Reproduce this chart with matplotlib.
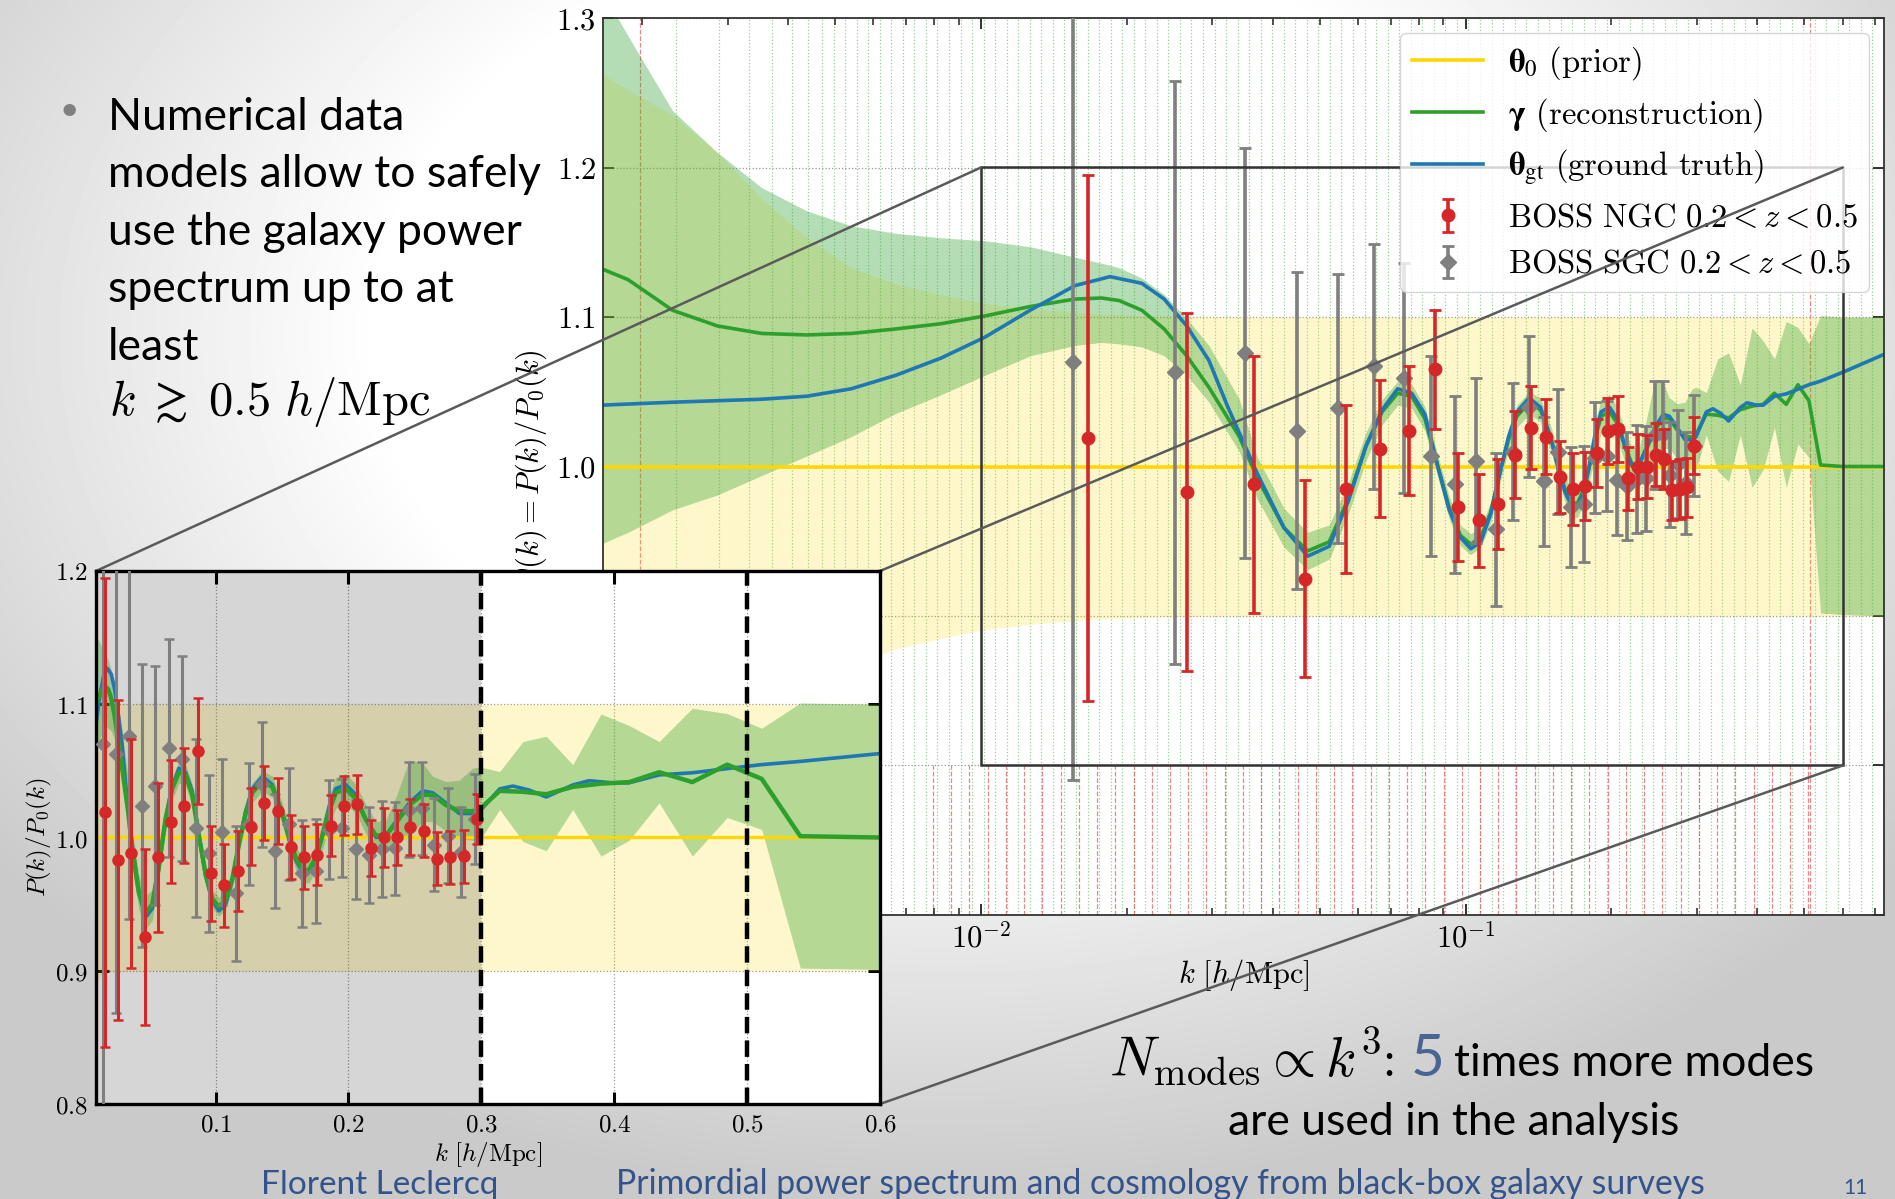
import numpy as np
import matplotlib
matplotlib.use("Agg")
import matplotlib.pyplot as plt
from matplotlib.patches import Rectangle, ConnectionPatch
from matplotlib.ticker import FuncFormatter, FixedLocator, LogLocator, NullFormatter

plt.rcParams['mathtext.fontset'] = 'cm'
plt.rcParams['font.family'] = ['DejaVu Sans']

# ---------------- data ----------------
# prior band: theta_0 = 1 with k-dependent half width
prior_k = [0.00164, 0.00187, 0.00231, 0.00286, 0.00353, 0.00437, 0.0054, 0.00667,
           0.00827, 0.0102, 0.0132, 0.0175, 0.024, 0.035, 0.73]
prior_hw = [0.263, 0.252, 0.235, 0.210, 0.179, 0.153, 0.133, 0.122,
            0.115, 0.109, 0.105, 0.102, 0.1005, 0.1, 0.1]

# reconstruction gamma and its credible band
recon_k = [0.00164, 0.00187, 0.00231, 0.00286, 0.00353, 0.00437, 0.0054, 0.00667, 0.00827, 0.01019,
           0.01263, 0.01563, 0.01775, 0.01928, 0.02148, 0.02388, 0.02658, 0.02953, 0.03412,
           0.0372, 0.0422, 0.0472, 0.0523, 0.0573, 0.0623, 0.0673, 0.0724, 0.0774, 0.0824,
           0.0874, 0.0925, 0.0975, 0.1025, 0.1075, 0.1126, 0.1176, 0.1226, 0.1276, 0.1352,
           0.1427, 0.1502, 0.1553, 0.1603, 0.1653, 0.1703, 0.1754, 0.1804, 0.1854, 0.1904,
           0.198, 0.2055, 0.213, 0.2206, 0.2281, 0.2356, 0.2457, 0.2557, 0.2633, 0.2733,
           0.2834, 0.2934,
           0.2988, 0.3138, 0.3313, 0.3488, 0.3688, 0.39, 0.4113, 0.4338, 0.4588, 0.485,
           0.511, 0.54, 0.6, 0.73]
recon_y = [1.1326, 1.125, 1.1045, 1.094, 1.089, 1.088, 1.089, 1.092, 1.0955, 1.1007,
           1.107, 1.112, 1.1127, 1.111, 1.1045, 1.092, 1.074, 1.053, 1.020,
           0.992, 0.959, 0.9435, 0.9496, 0.9786, 1.0137, 1.0366, 1.049, 1.047, 1.032,
           1.0015, 0.9725, 0.954, 0.948, 0.9527, 0.969, 0.9954, 1.018, 1.0336, 1.0427,
           1.038, 1.018, 1.0, 0.985, 0.9756, 0.9756, 0.985, 1.0015, 1.0198, 1.0336,
           1.0366, 1.029, 1.0137, 1.0015, 1.0015, 1.0107, 1.0244, 1.032, 1.032, 1.0244,
           1.0198, 1.0198,
           1.0213, 1.035, 1.0343, 1.0325, 1.038, 1.0404, 1.0416, 1.049, 1.0416, 1.0547,
           1.044, 1.001, 1.0, 1.0]
recon_lo = [0.948, 0.956, 0.971, 0.981, 0.994, 1.007, 1.020, 1.0355, 1.048, 1.061,
            1.074, 1.081, 1.083, 1.082, 1.080, 1.074, 1.061, 1.043, 1.010,
            0.978, 0.946, 0.931, 0.938, 0.968, 1.004, 1.028, 1.041, 1.039, 1.024,
            0.994, 0.965, 0.947, 0.941, 0.946, 0.962, 0.988, 1.011, 1.026, 1.035,
            1.030, 1.010, 0.991, 0.976, 0.966, 0.966, 0.975, 0.991, 1.009, 1.022,
            1.025, 1.018, 1.003, 0.991, 0.991, 0.997, 1.000, 1.012, 1.012, 1.005,
            0.999, 0.998,
            0.998, 1.021, 0.997, 0.990, 1.021, 0.986, 0.998, 1.026, 0.986, 1.015,
            1.006, 0.902, 0.901, 0.900]
recon_hi = [1.32, 1.288, 1.238, 1.21, 1.1865, 1.171, 1.161, 1.156, 1.153, 1.151,
            1.147, 1.140, 1.136, 1.133, 1.126, 1.115, 1.099, 1.081, 1.045,
            1.006, 0.972, 0.956, 0.961, 0.989, 1.023, 1.045, 1.057, 1.055, 1.040,
            1.009, 0.980, 0.961, 0.955, 0.960, 0.976, 1.003, 1.025, 1.041, 1.050,
            1.046, 1.026, 1.009, 0.994, 0.985, 0.985, 0.995, 1.012, 1.031, 1.045,
            1.048, 1.040, 1.025, 1.012, 1.013, 1.030, 1.058, 1.056, 1.046, 1.042,
            1.043, 1.052,
            1.053, 1.0495, 1.072, 1.076, 1.0547, 1.0927, 1.084, 1.072, 1.097, 1.093,
            1.082, 1.101, 1.100, 1.100]

# ground truth theta_gt
truth_k = [0.00164, 0.00231, 0.00353, 0.00437, 0.0054, 0.00667, 0.00827, 0.01019, 0.01263, 0.01563,
           0.01847, 0.02148, 0.02388, 0.02658, 0.02953, 0.0322, 0.0372, 0.0422, 0.0472, 0.0523,
           0.0573, 0.0623, 0.0673, 0.0724, 0.0774, 0.0824, 0.0874, 0.0925, 0.0975, 0.1025,
           0.1075, 0.1126, 0.1176, 0.1226, 0.1276, 0.1352, 0.1427, 0.1502, 0.1553, 0.1603,
           0.1653, 0.1703, 0.1754, 0.1804, 0.1854, 0.1904, 0.198, 0.2055, 0.213, 0.2206,
           0.2281, 0.2356, 0.2457, 0.2557, 0.2633, 0.2733, 0.2834, 0.2934, 0.2988, 0.3138,
           0.3238, 0.336, 0.3488, 0.369, 0.381, 0.399, 0.411, 0.434, 0.459, 0.485,
           0.511, 0.54, 0.6, 0.73]
truth_y = [1.041, 1.043, 1.045, 1.047, 1.052, 1.061, 1.0725, 1.0865, 1.1045, 1.121,
           1.127, 1.1225, 1.112, 1.094, 1.071, 1.041, 0.995, 0.959, 0.940, 0.9466,
           0.977, 1.0137, 1.038, 1.052, 1.049, 1.035, 1.0015, 0.971, 0.9527, 0.945,
           0.9496, 0.968, 0.9954, 1.0198, 1.0366, 1.0458, 1.0397, 1.018, 0.9985, 0.983,
           0.974, 0.974, 0.983, 1.0015, 1.023, 1.0366, 1.0397, 1.032, 1.0137, 1.0,
           1.0015, 1.012, 1.026, 1.035, 1.0336, 1.026, 1.018, 1.018, 1.0198, 1.0365,
           1.0386, 1.0356, 1.0304, 1.0395, 1.0426, 1.041, 1.041, 1.047, 1.0486, 1.0517,
           1.0547, 1.0571, 1.063, 1.075]

# BOSS measurements, P(k)/P_0(k)
ngc_k = [0.0166, 0.0266, 0.0366, 0.0466, 0.0566, 0.0666, 0.0766, 0.0866, 0.0966, 0.1066,
         0.1166, 0.1266, 0.1366, 0.1466, 0.1566, 0.1666, 0.1766, 0.1866, 0.1966, 0.2066,
         0.2166, 0.2266, 0.2366, 0.2466, 0.2566, 0.2666, 0.2766, 0.2866, 0.2966]
ngc_y = [1.019, 0.983, 0.988, 0.925, 0.985, 1.012, 1.024, 1.065, 0.973, 0.964,
         0.975, 1.008, 1.026, 1.020, 0.993, 0.985, 0.987, 1.009, 1.024, 1.025,
         0.992, 1.000, 1.000, 1.008, 1.005, 0.984, 0.985, 0.986, 1.014]
ngc_err = [0.176, 0.120, 0.086, 0.066, 0.056, 0.046, 0.043, 0.040, 0.036, 0.031,
           0.030, 0.029, 0.028, 0.025, 0.024, 0.024, 0.023, 0.023, 0.022, 0.022,
           0.021, 0.022, 0.021, 0.021, 0.020, 0.020, 0.020, 0.020, 0.019]

sgc_k = [0.0155, 0.0252, 0.0350, 0.0448, 0.0546, 0.0646, 0.0745, 0.0850, 0.0950, 0.1050,
         0.1153, 0.1251, 0.1352, 0.1449, 0.1551, 0.1649, 0.1752, 0.1853, 0.1954, 0.2055,
         0.2151, 0.2254, 0.2351, 0.2456, 0.2553, 0.2647, 0.2747, 0.2847, 0.2955]
sgc_y = [1.070, 1.063, 1.076, 1.024, 1.039, 1.067, 1.059, 1.007, 0.988, 1.004,
         0.958, 1.010, 1.040, 0.990, 1.010, 0.973, 0.975, 1.006, 1.007, 0.991,
         0.987, 0.9915, 0.992, 1.021, 1.022, 0.9945, 1.0015, 0.989, 1.014]
sgc_err = [0.280, 0.195, 0.137, 0.106, 0.090, 0.082, 0.077, 0.067, 0.059, 0.055,
           0.051, 0.046, 0.047, 0.043, 0.042, 0.040, 0.039, 0.037, 0.037, 0.037,
           0.036, 0.036, 0.035, 0.036, 0.035, 0.035, 0.036, 0.034, 0.034]

# wavenumber grid of the simulation box and of the support points
k_fund = 0.00166
k_min_support, k_max_support = 0.00198, 0.5145
support_first, support_ratio, n_support = 0.00796, 1.0905, 49

x_ticks_inset = [0.1, 0.2, 0.3, 0.4, 0.5, 0.6]
y_ticks_inset = [0.8, 0.9, 1.0, 1.1, 1.2]
y_ticks_main = [0.7, 0.8, 0.9, 1.0, 1.1, 1.2, 1.3]

bullet_lines = ["Numerical data", "models allow to safely", "use the galaxy power",
                "spectrum up to at", "least"]

# ---------------- colours ----------------
C_PRIOR = '#FFD700'
C_RECON = '#2ca02c'
C_TRUTH = '#1f77b4'
C_NGC = '#d62728'
C_SGC = '#7f7f7f'
C_FOOT = '#33538A'

W, H = 1895, 1199
fig = plt.figure(figsize=(W / 100, H / 100), dpi=100)


def fx(px):
    return px / W


def fy(py):
    return 1 - py / H


# slide background: soft grey vignette
bg = fig.add_axes([0, 0, 1, 1], zorder=-10)
yy, xx = np.mgrid[0:1:300j, 0:1:480j]
r = np.hypot((xx - 0.50) / 0.75, (yy - 0.28) / 0.85)
shade = 1 - 0.21 * np.clip((r - 0.40) / 0.45, 0, 1)
bg.imshow(shade, cmap='gray', vmin=0, vmax=1, extent=[0, 1, 0, 1], origin='upper',
          aspect='auto', interpolation='bilinear')
bg.set_xlim(0, 1)
bg.set_ylim(0, 1)
bg.set_axis_off()

prior_k_a = np.array(prior_k)
prior_hw_a = np.array(prior_hw)

# ---------------- main axes (log k) ----------------
ax = fig.add_axes([fx(603), fy(915), (1884 - 603) / W, (915 - 18) / H], zorder=0)
ax.set_facecolor('white')
ax.set_xscale('log')
ax.set_xlim(0.00166, 0.73)
ax.set_ylim(0.7, 1.3)

# mode grid (green dotted) and support wavenumbers (red dashed)
low_modes = [k_fund * np.sqrt(n) for n in range(2, 8)]
log_modes = list(np.geomspace(0.0047, 0.73, int(np.log10(0.73 / 0.0047) / 0.02376) + 1))
for k in low_modes + log_modes:
    ax.axvline(k, color=C_RECON, ls=':', lw=0.9, alpha=0.5, zorder=0.3)
support = [support_first * support_ratio ** i for i in range(n_support)]
for k in support:
    ax.plot([k, k], [0.7, 0.8], color=C_NGC, ls='--', lw=0.9, alpha=0.55, zorder=0.3)
for k in (k_min_support, k_max_support):
    ax.axvline(k, color=C_NGC, ls='--', lw=0.9, alpha=0.55, zorder=0.3)

ax.yaxis.grid(True, ls=':', color='#999999', lw=0.9, zorder=0.2)
ax.set_axisbelow(True)

ax.fill_between(prior_k_a, 1 - prior_hw_a, 1 + prior_hw_a, color=C_PRIOR, alpha=0.2, lw=0, zorder=1)
ax.fill_between(recon_k, recon_lo, recon_hi, color=C_RECON, alpha=0.35, lw=0, zorder=1.5)
l_prior = ax.axhline(1.0, color=C_PRIOR, lw=2.6, zorder=2)
l_truth, = ax.plot(truth_k, truth_y, color=C_TRUTH, lw=2.6, zorder=2.2)
l_recon, = ax.plot(recon_k, recon_y, color=C_RECON, lw=2.6, zorder=2.1)
e_sgc = ax.errorbar(sgc_k, sgc_y, yerr=sgc_err, fmt='D', color=C_SGC, ms=8, elinewidth=2.6,
                    capsize=4.5, capthick=2, zorder=3)
e_ngc = ax.errorbar(ngc_k, ngc_y, yerr=ngc_err, fmt='o', color=C_NGC, ms=9, elinewidth=2.6,
                    capsize=4.5, capthick=2, zorder=3.2)

ax.add_patch(Rectangle((0.01, 0.8), 0.59, 0.4, fill=False, ec='#333333', lw=1.8, zorder=4))

ax.yaxis.set_major_locator(FixedLocator(y_ticks_main))
ax.yaxis.set_major_formatter(FuncFormatter(lambda v, p: rf'${v:.1f}$'))
ax.xaxis.set_major_locator(LogLocator(base=10, numticks=10))
ax.xaxis.set_minor_locator(LogLocator(base=10, subs=np.arange(2, 10), numticks=20))
ax.xaxis.set_major_formatter(FuncFormatter(lambda v, p: rf'$10^{{{int(round(np.log10(v)))}}}$'))
ax.xaxis.set_minor_formatter(NullFormatter())
ax.tick_params(which='both', direction='in', top=True, right=True, labelsize=22, color='#222222')
ax.tick_params(which='major', length=8, width=1.3, pad=5)
ax.tick_params(which='minor', length=5, width=1.1)
for s in ax.spines.values():
    s.set_linewidth(1.3)
    s.set_color('#333333')

ax.set_xlabel(r'$k\ [h/\mathrm{Mpc}]$', fontsize=22)
ax.xaxis.set_label_coords(0.5, -0.047)
ax.set_ylabel(r'$\theta(k) = P(k)/P_0(k)$', fontsize=22)
ax.yaxis.set_label_coords(-0.042, 0.5)

leg = ax.legend([l_prior, l_recon, l_truth, e_ngc, e_sgc],
                [r'$\mathbf{\theta}_0$ (prior)',
                 r'$\mathbf{\gamma}$ (reconstruction)',
                 r'$\mathbf{\theta}_\mathrm{gt}$ (ground truth)',
                 r'$\mathrm{BOSS\ NGC}\ 0.2 < z < 0.5$',
                 r'$\mathrm{BOSS\ SGC}\ 0.2 < z < 0.5$'],
                loc='upper right', fontsize=23.5, frameon=True, fancybox=True,
                framealpha=0.8, edgecolor='#cccccc', handlelength=2.2,
                handletextpad=0.75, labelspacing=0.42, borderpad=0.35,
                borderaxespad=0.45)
leg.set_zorder(5)
for t in leg.get_texts()[:3]:
    t.set_family('cmr10')
    t.set_math_fontfamily('stix')

# ---------------- inset (linear k) ----------------
axi = fig.add_axes([fx(96), fy(1104), (880 - 96) / W, (1104 - 571) / H], zorder=3)
axi.set_facecolor('white')
axi.set_xlim(0.01, 0.6)
axi.set_ylim(0.8, 1.2)
axi.grid(True, ls=':', color='#999999', lw=0.9)
axi.set_axisbelow(True)
axi.fill_between(prior_k_a, 1 - prior_hw_a, 1 + prior_hw_a, color=C_PRIOR, alpha=0.2, lw=0, zorder=1)
axi.axvspan(0.01, 0.3, color='black', alpha=0.16, lw=0, zorder=1.2)
axi.fill_between(recon_k, recon_lo, recon_hi, color=C_RECON, alpha=0.35, lw=0, zorder=1.5)
axi.axhline(1.0, color=C_PRIOR, lw=2.4, zorder=2)
axi.plot(truth_k, truth_y, color=C_TRUTH, lw=2.6, zorder=2.1)
axi.plot(recon_k, recon_y, color=C_RECON, lw=3.2, zorder=2.2)
axi.errorbar(sgc_k, sgc_y, yerr=sgc_err, fmt='D', color=C_SGC, ms=7, elinewidth=2.2,
             capsize=3.5, capthick=1.8, zorder=3)
axi.errorbar(ngc_k, ngc_y, yerr=ngc_err, fmt='o', color=C_NGC, ms=8, elinewidth=2.2,
             capsize=3.5, capthick=1.8, zorder=3.2)
for kc in (0.3, 0.5):
    axi.axvline(kc, color='black', ls='--', lw=3.2, zorder=4)

axi.xaxis.set_major_locator(FixedLocator(x_ticks_inset))
axi.yaxis.set_major_locator(FixedLocator(y_ticks_inset))
axi.xaxis.set_major_formatter(FuncFormatter(lambda v, p: rf'${v:.1f}$'))
axi.yaxis.set_major_formatter(FuncFormatter(lambda v, p: rf'${v:.1f}$'))
axi.tick_params(direction='in', top=True, right=True, length=9, width=2.2, labelsize=18, pad=6)
for s in axi.spines.values():
    s.set_linewidth(2.4)
axi.set_xlabel(r'$k\ [h/\mathrm{Mpc}]$', fontsize=18)
axi.xaxis.set_label_coords(0.5, -0.068)
axi.set_ylabel(r'$P(k)/P_0(k)$', fontsize=18)
axi.yaxis.set_label_coords(-0.053, 0.5)

# zoom connectors between the framed region and the inset
for corner in [(0.01, 1.2), (0.6, 1.2), (0.6, 0.8)]:
    con = ConnectionPatch(xyA=corner, coordsA=ax.transData, xyB=corner, coordsB=axi.transData,
                          color='#5a5a5a', lw=1.8, zorder=2)
    fig.add_artist(con)

# ---------------- slide text ----------------
SANS = ['Lato', 'DejaVu Sans']
fig.text(fx(69), fy(120), '\u2022', fontsize=24, color='#808080', family=SANS, ha='center', va='baseline')
for i, line in enumerate(bullet_lines):
    fig.text(fx(108), fy(130 + 57.5 * i), line, fontsize=32, family=SANS, va='baseline', color='black')
fig.text(fx(109), fy(415), r'$k \;\gtrsim\; 0.5\ h/\mathrm{Mpc}$', fontsize=35, va='baseline')

# first closing line: formula, colon, highlighted number, words
t_math = fig.text(fx(1109), fy(1076), r'$N_\mathrm{modes} \propto k^3$', fontsize=40, va='baseline')
renderer = fig.canvas.get_renderer()
math_right = t_math.get_window_extent(renderer).x1
fig.text((math_right + 2) / W, fy(1076), ':', fontsize=32, family=SANS, va='baseline')
fig.text(fx(1411), fy(1076), '5', fontsize=42, family=SANS, va='baseline', color='#4A6593')
fig.text(fx(1454), fy(1076), 'times more modes', fontsize=32, family=SANS, va='baseline')
fig.text(fx(1454), fy(1135), 'are used in the analysis', fontsize=32, family=SANS,
         va='baseline', ha='center')

fig.text(fx(261), fy(1194), 'Florent Leclercq', fontsize=24, family=SANS,
         color=C_FOOT, va='baseline')
fig.text(fx(616), fy(1194), 'Primordial power spectrum and cosmology from black-box galaxy surveys',
         fontsize=24.3, family=SANS, color=C_FOOT, va='baseline')
fig.text(fx(1855), fy(1194), '11', fontsize=15, family=SANS,
         color=C_FOOT, va='baseline', ha='center')

fig.savefig('out.png', dpi=100)
